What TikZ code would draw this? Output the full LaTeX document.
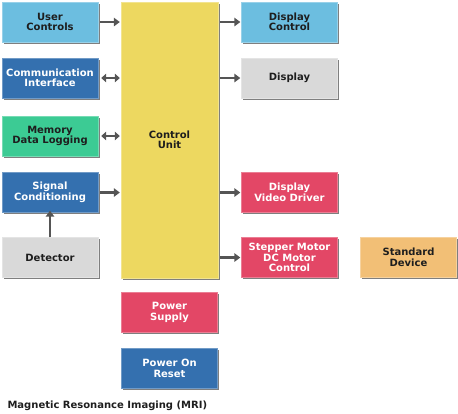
\documentclass[tikz,border=0pt]{standalone}
\usepackage{fontspec}
\setmainfont{DejaVu Sans}
\usepackage{xcolor}
\usepackage{tikz}
\usetikzlibrary{
  arrows.meta,
  positioning,
  shadows,
}
\definecolor{ltblue}{HTML}{6CBEE0}
\definecolor{dkblue}{HTML}{3470AF}
\definecolor{mintgreen}{HTML}{3CCB94}
\definecolor{ltgray}{HTML}{D9D9D9}
\definecolor{rosered}{HTML}{E34766}
\definecolor{sandorange}{HTML}{F2BF76}
\definecolor{cuyellow}{HTML}{EDD860}
\definecolor{arrowgray}{HTML}{555555}
\definecolor{darktext}{HTML}{1E1E1E}

\tikzset{
  blk/.style={minimum width=96pt, minimum height=40pt, inner sep=1pt,
    align=center, font=\bfseries\fontsize{10}{10.5}\selectfont,
    drop shadow={shadow xshift=1.6pt, shadow yshift=-1.6pt, fill=black, opacity=0.5}},
  lightblk/.style={blk, fill=#1, draw=#1!70!white, text=darktext},
  darkblk/.style={blk, fill=#1, draw=#1!70!white, text=white},
  link/.style={arrowgray, line width=2.2pt, -{Triangle[length=6pt, width=8.5pt]}},
  dlink/.style={arrowgray, line width=2.2pt, {Triangle[length=5pt, width=8.5pt]}-{Triangle[length=5pt, width=8.5pt]}},
}

\begin{document}
\begin{tikzpicture}[x=1pt, y=-1pt]
  \useasboundingbox (0,0) rectangle (458,413);
  % left column
  \node[lightblk=ltblue]     (uc) at (50,22)    {User\\Controls};
  \node[darkblk=dkblue]      (ci) at (50,78)    {Communication\\Interface};
  \node[lightblk=mintgreen]  (md) at (50,136)   {Memory\\Data Logging};
  \node[darkblk=dkblue]      (sc) at (50,192.5) {Signal\\Conditioning};
  \node[lightblk=ltgray]     (dt) at (50,257.5) {Detector};
  % centre column
  \node[lightblk=cuyellow, minimum width=97pt, minimum height=276pt]
                             (cu) at (169.5,140) {Control\\Unit};
  \node[darkblk=rosered]     (ps) at (169.5,312.5) {Power\\Supply};
  \node[darkblk=dkblue]      (pr) at (169.5,368.5) {Power On\\Reset};
  % right column
  \node[lightblk=ltblue]     (dc) at (289.5,22)    {Display\\Control};
  \node[lightblk=ltgray]     (ds) at (289.5,78)    {Display};
  \node[darkblk=rosered]     (dv) at (289.5,192.5) {Display\\Video Driver};
  \node[darkblk=rosered]     (sm) at (289.5,257.5) {Stepper Motor\\DC Motor\\Control};
  \node[lightblk=sandorange] (sd) at (408.5,257.5) {Standard\\Device};
  % connectors
  \draw[link]  ([xshift=2pt]uc.east) -- ([xshift=-1pt]cu.west |- uc.east);
  \draw[dlink] ([xshift=3pt]ci.east) -- ([xshift=-1pt]cu.west |- ci.east);
  \draw[dlink] ([xshift=3pt]md.east) -- ([xshift=-1pt]cu.west |- md.east);
  \draw[link]  ([xshift=2pt]sc.east) -- ([xshift=-1pt]cu.west |- sc.east);
  \draw[link]  (dt.north) -- ([yshift=2pt]sc.south);
  \draw[link]  ([xshift=2pt]cu.east |- dc.west) -- ([xshift=-1pt]dc.west);
  \draw[link]  ([xshift=2pt]cu.east |- ds.west) -- ([xshift=-1pt]ds.west);
  \draw[link]  ([xshift=2pt]cu.east |- dv.west) -- ([xshift=-1pt]dv.west);
  \draw[link]  ([xshift=2pt]cu.east |- sm.west) -- ([xshift=-1pt]sm.west);
  % caption
  \node[anchor=west, text=darktext, font=\bfseries\fontsize{10}{10.5}\selectfont]
    (cap) at (4,406) {Magnetic Resonance Imaging (MRI)};
\end{tikzpicture}
\end{document}
